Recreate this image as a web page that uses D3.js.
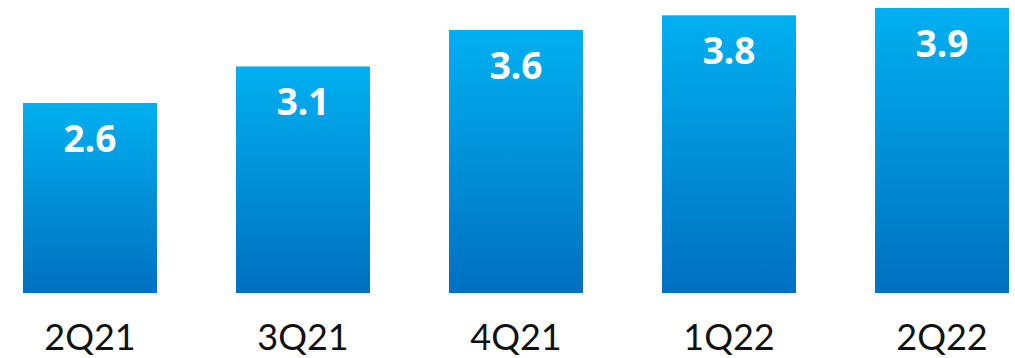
<!DOCTYPE html>
<html>
<head>
<meta charset="utf-8">
<script src="https://cdn.jsdelivr.net/npm/d3@7"></script>
<style>
  body { margin: 0; background: #fff; }
  svg { display: block; }
</style>
</head>
<body>
<figure id="bars" style="margin:0"></figure>
<script>
// chart data
const quarters = ["2Q21", "3Q21", "4Q21", "1Q22", "2Q22"];
const values = [2.6, 3.1, 3.6, 3.8, 3.9];

const width = 1015;
const height = 358;

const svg = d3.select("figure#bars")
  .append("svg")
  .attr("width", width)
  .attr("height", height);

// vertical blue gradient, one per bar (bounding box units)
const grad = svg.append("defs")
  .append("linearGradient")
  .attr("id", "barGrad")
  .attr("x1", 0).attr("y1", 0)
  .attr("x2", 0).attr("y2", 1);
grad.append("stop").attr("offset", "0%").attr("stop-color", "#00b0f0");
grad.append("stop").attr("offset", "100%").attr("stop-color", "#0070c0");

const x = d3.scaleBand()
  .domain(quarters)
  .range([23, 1009])
  .paddingInner(0.371)
  .paddingOuter(0);

const y = d3.scaleLinear()
  .domain([0, 3.9])
  .range([293, 8]);

const data = quarters.map((q, i) => ({ q: q, v: values[i] }));

svg.selectAll("rect.bar")
  .data(data)
  .enter()
  .append("rect")
  .attr("class", "bar")
  .attr("x", d => x(d.q))
  .attr("y", d => y(d.v))
  .attr("width", x.bandwidth())
  .attr("height", d => y(0) - y(d.v))
  .attr("fill", "url(#barGrad)");

// value labels inside the bars
svg.selectAll("text.val")
  .data(data)
  .enter()
  .append("text")
  .attr("class", "val")
  .attr("x", d => x(d.q) + x.bandwidth() / 2)
  .attr("y", d => y(d.v) + 49)
  .attr("text-anchor", "middle")
  .style("font-family", "'Noto Sans', sans-serif")
  .style("font-weight", 700)
  .style("font-size", "37px")
  .attr("fill", "#fff")
  .text(d => d.v.toFixed(1));

// category axis, no line or ticks
const axis = svg.append("g")
  .attr("transform", "translate(0," + 293 + ")")
  .call(d3.axisBottom(x).tickSize(0).tickPadding(0));
axis.select(".domain").remove();
axis.selectAll("text")
  .attr("y", 57)
  .attr("dy", null)
  .style("font-family", "Lato, sans-serif")
  .style("font-size", "36px")
  .attr("fill", "#111");
</script>
</body>
</html>
